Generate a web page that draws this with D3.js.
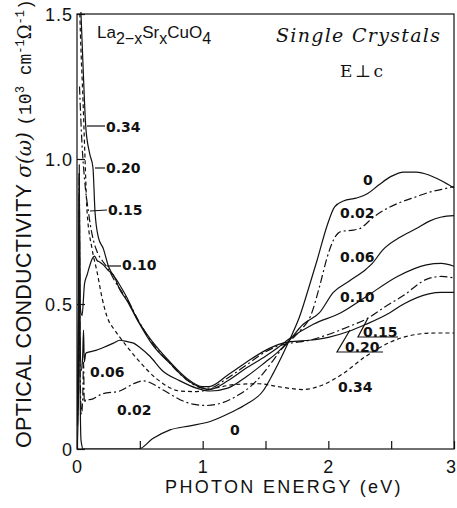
<!DOCTYPE html>
<html><head><meta charset="utf-8">
<script src="https://cdn.jsdelivr.net/npm/d3@7"></script>
<style>body{margin:0;background:#fff}svg{display:block}</style>
</head><body>
<svg id="c" width="457" height="508"></svg>
<script>
// ---- data (energy eV, sigma 10^3 S/cm) ----
const xTicks = [0, 1, 2, 3];
const xMinor = [0.5, 1.5, 2.5];
const yTicks = [0, 0.5, 1.0, 1.5];
const yTickLabels = ["0", "0.5", "1.0", "1.5"];

const s000 = [[0.003,0.02],[0.012,0.2],[0.018,0.98],[0.024,0.25],[0.032,0.03],[0.05,0],[0.49,0],[0.6,0.035],[0.74,0.066],[0.9,0.08],[1.06,0.095],[1.22,0.125],[1.35,0.155],[1.48,0.2],[1.56,0.26],[1.63,0.32],[1.69,0.375],[1.77,0.455],[1.84,0.55],[1.91,0.65],[1.99,0.77],[2.05,0.835],[2.12,0.855],[2.22,0.865],[2.31,0.88],[2.4,0.91],[2.5,0.94],[2.6,0.955],[2.7,0.955],[2.8,0.945],[2.9,0.925],[3.0,0.9]];
const s002 = [[0.003,0.08],[0.012,0.3],[0.018,0.95],[0.024,0.3],[0.035,0.12],[0.045,0.17],[0.052,0.3],[0.058,0.16],[0.07,0.17],[0.1,0.17],[0.2,0.19],[0.34,0.2],[0.45,0.225],[0.53,0.235],[0.6,0.225],[0.66,0.21],[0.74,0.19],[0.82,0.17],[0.92,0.155],[1.03,0.15],[1.16,0.16],[1.28,0.185],[1.38,0.215],[1.48,0.26],[1.56,0.305],[1.63,0.345],[1.7,0.375],[1.78,0.41],[1.86,0.46],[1.93,0.56],[1.99,0.66],[2.04,0.72],[2.1,0.75],[2.2,0.755],[2.25,0.76],[2.36,0.8],[2.47,0.83],[2.57,0.85],[2.7,0.87],[2.8,0.885],[2.9,0.895],[3.0,0.905]];
const s006 = [[0.003,0.1],[0.012,0.4],[0.018,0.95],[0.024,0.4],[0.035,0.27],[0.045,0.32],[0.052,0.41],[0.058,0.3],[0.07,0.33],[0.1,0.335],[0.15,0.34],[0.21,0.35],[0.29,0.365],[0.34,0.375],[0.4,0.37],[0.45,0.365],[0.5,0.35],[0.58,0.32],[0.68,0.27],[0.82,0.235],[0.95,0.21],[1.06,0.2],[1.2,0.21],[1.35,0.25],[1.5,0.3],[1.6,0.335],[1.68,0.37],[1.8,0.43],[1.93,0.47],[2.04,0.54],[2.17,0.58],[2.3,0.62],[2.35,0.64],[2.43,0.685],[2.57,0.73],[2.7,0.76],[2.8,0.785],[2.9,0.8],[3.0,0.805]];
const s010 = [[0.003,0.15],[0.012,0.5],[0.018,0.95],[0.024,0.5],[0.04,0.46],[0.06,0.57],[0.08,0.6],[0.1,0.63],[0.12,0.655],[0.14,0.665],[0.16,0.65],[0.18,0.645],[0.21,0.635],[0.25,0.615],[0.29,0.6],[0.34,0.55],[0.4,0.51],[0.48,0.445],[0.6,0.36],[0.74,0.295],[0.87,0.24],[1.0,0.21],[1.05,0.205],[1.2,0.235],[1.35,0.28],[1.5,0.32],[1.6,0.35],[1.69,0.38],[1.88,0.43],[2.1,0.47],[2.3,0.525],[2.55,0.595],[2.78,0.635],[2.9,0.64],[3.0,0.63]];
const s015 = [[0.02,1.25],[0.04,1.05],[0.06,0.93],[0.09,0.82],[0.12,0.74],[0.16,0.68],[0.2,0.65],[0.25,0.62],[0.3,0.58],[0.36,0.54],[0.42,0.5],[0.48,0.45],[0.6,0.365],[0.74,0.295],[0.87,0.24],[1.0,0.21],[1.05,0.21],[1.2,0.245],[1.35,0.29],[1.5,0.335],[1.6,0.355],[1.7,0.365],[1.85,0.375],[2.0,0.395],[2.15,0.42],[2.31,0.45],[2.45,0.49],[2.6,0.53],[2.78,0.585],[2.9,0.595],[3.0,0.59]];
const s020 = [[0.03,1.52],[0.05,1.3],[0.07,1.11],[0.1,1.02],[0.127,0.97],[0.143,0.82],[0.17,0.73],[0.21,0.69],[0.25,0.63],[0.32,0.58],[0.4,0.52],[0.47,0.455],[0.6,0.37],[0.74,0.3],[0.87,0.245],[1.0,0.215],[1.05,0.215],[1.2,0.255],[1.35,0.3],[1.5,0.34],[1.6,0.36],[1.7,0.37],[1.85,0.375],[2.0,0.385],[2.16,0.405],[2.3,0.43],[2.49,0.47],[2.6,0.5],[2.8,0.535],[2.9,0.54],[3.0,0.54]];
const s034 = [[0.02,1.55],[0.024,1.48],[0.048,1.2],[0.064,1.0],[0.08,0.82],[0.12,0.69],[0.16,0.61],[0.2,0.52],[0.24,0.455],[0.3,0.41],[0.34,0.386],[0.48,0.31],[0.64,0.24],[0.82,0.2],[0.95,0.198],[1.1,0.21],[1.25,0.222],[1.45,0.225],[1.6,0.215],[1.8,0.205],[1.95,0.22],[2.1,0.255],[2.3,0.32],[2.5,0.37],[2.7,0.395],[2.85,0.4],[3.0,0.4]];

const seriesNames = ["0","0.02","0.06","0.10","0.15","0.20","0.34"];
const seriesData = [s000, s002, s006, s010, s015, s020, s034];
const seriesDash = [null, "8,3,2,3", null, null, "8,3,2,3", null, "4,3"];

// ---- layout ----
const svg = d3.select("#c");
const L = 77, R = 454, T = 14, B = 449;
const x = d3.scaleLinear().domain([0,3]).range([L,R]);
const y = d3.scaleLinear().domain([0,1.5]).range([B,T]);
const ink = "#111";

svg.append("clipPath").attr("id","clip").append("rect")
  .attr("x",L).attr("y",T-2).attr("width",R-L).attr("height",B-T+2);

// frame
svg.append("rect").attr("x",L).attr("y",T).attr("width",R-L).attr("height",B-T)
  .attr("fill","none").attr("stroke",ink).attr("stroke-width",1.2);

// axes
const xAxis = d3.axisBottom(x).tickValues(xTicks.concat(xMinor)).tickSize(-8).tickFormat("");
svg.append("g").attr("transform",`translate(0,${B})`).call(xAxis)
  .call(g=>{g.select(".domain").remove();g.selectAll("line").attr("stroke",ink).attr("stroke-width",1.2);});
const yAxis = d3.axisLeft(y).tickValues(yTicks).tickSize(-8).tickFormat("");
svg.append("g").attr("transform",`translate(${L},0)`).call(yAxis)
  .call(g=>{g.select(".domain").remove();g.selectAll("line").attr("stroke",ink).attr("stroke-width",1.2);});

const tickFont = "Liberation Sans, Arial, sans-serif";
svg.append("g").selectAll("text").data(xTicks).join("text")
  .attr("x",d=>Math.min(x(d),451)).attr("y",473).attr("text-anchor","middle")
  .attr("font-family",tickFont).attr("font-size",18).attr("fill",ink).text(d=>d);
svg.append("g").selectAll("text").data(yTicks).join("text")
  .attr("x",73).attr("y",d=>y(d)+6.5).attr("text-anchor","end")
  .attr("font-family",tickFont).attr("font-size",18).attr("letter-spacing",1).attr("fill",ink)
  .text((d,i)=>yTickLabels[i]);

// axis titles
svg.append("text").attr("x",284).attr("y",493).attr("text-anchor","middle")
  .attr("font-family",tickFont).attr("font-size",18).attr("letter-spacing",2.3).attr("fill",ink)
  .text("PHOTON ENERGY (eV)");

const yt = svg.append("text").attr("transform","translate(31,448) rotate(-90)")
  .attr("font-family",tickFont).attr("font-size",21.5).attr("fill",ink);
yt.append("tspan").attr("letter-spacing",0.3).text("OPTICAL CONDUCTIVITY ");
yt.append("tspan").attr("font-family","DejaVu Serif, serif").attr("font-style","italic").attr("font-size",20).text("σ(ω) ");
yt.append("tspan").attr("font-family","Liberation Mono, Courier New, monospace").attr("font-size",18).text("(10");
yt.append("tspan").attr("font-family","Liberation Mono, monospace").attr("font-size",12).attr("dy",-7).text("3");
yt.append("tspan").attr("font-family","Liberation Mono, monospace").attr("font-size",18).attr("dy",7).text(" cm");
yt.append("tspan").attr("font-family","Liberation Mono, monospace").attr("font-size",12).attr("dy",-7).text("-1");
yt.append("tspan").attr("font-family","DejaVu Serif, serif").attr("font-size",18).attr("dy",7).text("Ω");
yt.append("tspan").attr("font-family","Liberation Mono, monospace").attr("font-size",12).attr("dy",-7).text("-1");
yt.append("tspan").attr("font-family","Liberation Mono, monospace").attr("font-size",18).attr("dy",7).text(")");

// formula and annotations
const f = svg.append("text").attr("x",97).attr("y",38).attr("font-family",tickFont).attr("font-size",17).attr("fill",ink);
f.append("tspan").text("La");
f.append("tspan").attr("dy",6).attr("font-size",16).text("2−x");
f.append("tspan").attr("dy",-6).text("Sr");
f.append("tspan").attr("dy",6).attr("font-size",16).text("x");
f.append("tspan").attr("dy",-6).text("CuO");
f.append("tspan").attr("dy",6).attr("font-size",16).text("4");

svg.append("text").attr("x",276).attr("y",42).attr("font-family","DejaVu Serif, serif")
  .attr("font-style","italic").attr("font-size",19).attr("letter-spacing",1.3).attr("fill",ink).text("Single Crystals");
svg.append("text").attr("x",340).attr("y",77).attr("font-family","DejaVu Serif, serif")
  .attr("font-size",17).attr("letter-spacing",2.5).attr("fill",ink).text("E⊥c");

// curves
const line = d3.line().x(d=>x(d[0])).y(d=>y(d[1])).curve(d3.curveMonotoneX);
svg.append("g").attr("clip-path","url(#clip)").selectAll("path").data(seriesData).join("path")
  .attr("d",line).attr("fill","none").attr("stroke",ink).attr("stroke-width",1.2)
  .attr("stroke-dasharray",(d,i)=>seriesDash[i]);

// curve labels
const labFont = "DejaVu Sans, sans-serif";
const labels = [
  ["0",363,185],["0.02",340,218],["0.06",340,262],["0.10",340,302],["0.15",363,337],["0.20",345,352],["0.34",338,392],
  ["0.06",90,377],["0.02",117,415],["0",230,435],
  ["0.34",106,132],["0.20",106,173],["0.15",108,215],["0.10",122,270]
];
svg.append("g").selectAll("text").data(labels).join("text")
  .attr("x",d=>d[1]).attr("y",d=>d[2]).attr("font-family",labFont).attr("font-weight","bold")
  .attr("font-size",14).attr("fill",ink).text(d=>d[0]);

// leader lines
const leaders = [
  [[87,126],[105,126]],[[95,168],[105,168]],[[90,211],[107,210]],[[107,266],[121,266]],
  [[368,318],[358,337],[398,337]],[[350,330],[337,352],[383,352]]
];
svg.append("g").selectAll("path").data(leaders).join("path")
  .attr("d",d=>d3.line()(d)).attr("fill","none").attr("stroke",ink).attr("stroke-width",1.2);
</script>
</body></html>
